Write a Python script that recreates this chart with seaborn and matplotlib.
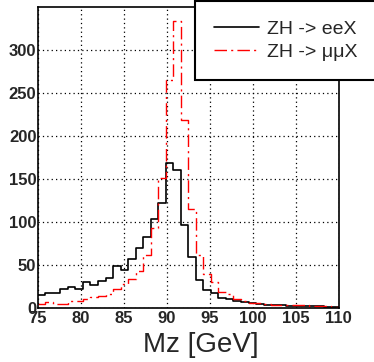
import numpy as np
import pandas as pd
import matplotlib
matplotlib.use("Agg")
import matplotlib.pyplot as plt
import seaborn as sns
from matplotlib.ticker import MultipleLocator

# 40 bins from 75 to 110 GeV
bin_lo = 75.0
bin_hi = 110.0
n_bins = 40

ee_counts = [15, 17, 17, 22, 24, 22, 30, 27, 31, 35,
             49, 44, 57, 70, 83, 104, 122, 169, 161, 97,
             59, 33, 21, 18, 12, 10, 8.5, 7, 5.5, 5,
             4, 3.5, 3, 2.5, 2.5, 2.5, 2, 2, 1.5, 1]
mumu_counts = [5, 6.5, 4.5, 5, 8.5, 8.5, 10.5, 12.5, 13.5, 16,
               22, 28, 34, 43, 62, 93, 151, 265, 334, 219,
               115, 62, 40, 30, 19, 16, 10, 8.5, 6, 5.5,
               4.5, 4, 4, 3.5, 3.5, 3, 2.5, 2.5, 2, 1]
labels = ["ZH -> eeX", "ZH -> \u03bc\u03bcX"]

edges = list(np.linspace(bin_lo, bin_hi, n_bins + 1))
centers = [(a + b) / 2 for a, b in zip(edges[:-1], edges[1:])]
df_ee = pd.DataFrame({"Mz": centers, "n": ee_counts})
df_mm = pd.DataFrame({"Mz": centers, "n": mumu_counts})

sns.set_style("white")
plt.rcParams["font.family"] = ["Liberation Sans", "DejaVu Sans"]

fig = plt.figure(figsize=(3.74, 3.62), dpi=100)
ax = fig.add_axes([0.101, 0.149, 0.805, 0.832])

sns.histplot(data=df_ee, x="Mz", weights="n", bins=edges, element="step",
             fill=False, color="black", linewidth=1.2, ax=ax, label=labels[0])
sns.histplot(data=df_mm, x="Mz", weights="n", bins=edges, element="step",
             fill=False, color="#ff0000", linewidth=1.0, ax=ax,
             linestyle=(0, (9, 3, 1.5, 3)), label=labels[1])

ax.set_xlim(75, 110)
ax.set_ylim(0, 350)
ax.xaxis.set_major_locator(MultipleLocator(5))
ax.xaxis.set_minor_locator(MultipleLocator(1))
ax.yaxis.set_major_locator(MultipleLocator(50))
ax.yaxis.set_minor_locator(MultipleLocator(10))
ax.set_yticks([0, 50, 100, 150, 200, 250, 300])
ax.tick_params(which="major", direction="in", length=8, width=1,
               labelsize=12, pad=1)
ax.tick_params(which="minor", direction="in", length=4, width=1)
ax.tick_params(axis="x", pad=2)
for t in ax.get_xticklabels() + ax.get_yticklabels():
    t.set_fontweight("bold")
ax.grid(True, which="major", color="black", linestyle=(0, (1, 2.5)), linewidth=0.9)
for s in ax.spines.values():
    s.set_color("black")
    s.set_linewidth(1.2)

ax.set_ylabel("")
ax.set_xlabel("Mz [GeV]", fontsize=20, labelpad=4)
ax.xaxis.set_label_coords(0.54, -0.08, transform=ax.transAxes)
ax.xaxis.label.set_verticalalignment("top")

leg = fig.legend(loc="upper left", bbox_to_anchor=(0.521, 0.997),
                 fontsize=14, handlelength=2.3, handletextpad=0.4,
                 borderpad=1.0, labelspacing=0.25, frameon=True,
                 fancybox=False, borderaxespad=0)
leg.get_frame().set_edgecolor("black")
leg.get_frame().set_linewidth(1.5)
leg.get_frame().set_facecolor("white")
leg.get_frame().set_alpha(1)

fig.savefig("out.png", dpi=100)
